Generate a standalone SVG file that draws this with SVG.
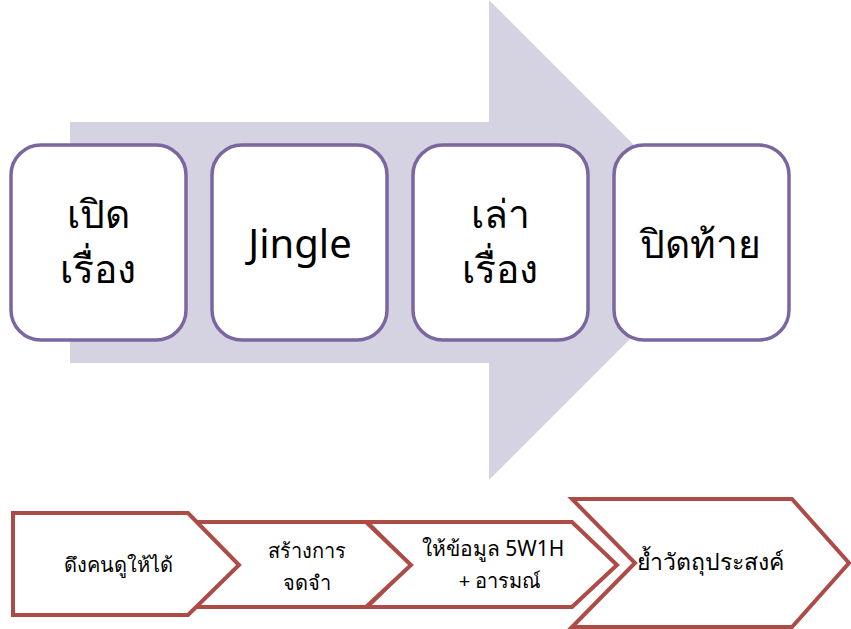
<svg xmlns="http://www.w3.org/2000/svg" width="851" height="629" viewBox="0 0 851 629">
<style>
.box{fill:#ffffff;stroke:#7b66a0;stroke-width:3.5}
.chev{fill:#ffffff;stroke:#ad4b47;stroke-width:4;stroke-linejoin:miter}
.big{font-family:"Noto Sans","DejaVu Sans",sans-serif;font-size:39px;fill:#000000;text-anchor:middle}
.small{font-family:"Noto Sans","DejaVu Sans",sans-serif;font-size:20px;fill:#000000;text-anchor:middle}
</style>
<rect width="851" height="629" fill="#ffffff"/>
<g id="bigArrow">
<polygon points="70,122 489,122 489,0 729,240 489,480 489,363 70,363" fill="#d5d2e2"/>
</g>
<g id="node1">
<rect class="box" x="11" y="145" width="175" height="195" rx="30"/>
<text class="big" x="98" y="228">เปิด</text>
<text class="big" x="98" y="283">เรื่อง</text>
</g>
<g id="node2">
<rect class="box" x="212" y="145" width="175" height="195" rx="30"/>
<text class="big" x="300" y="258" style="font-size:40px">Jingle</text>
</g>
<g id="node3">
<rect class="box" x="413" y="145" width="175" height="195" rx="30"/>
<text class="big" x="500" y="228">เล่า</text>
<text class="big" x="500" y="283">เรื่อง</text>
</g>
<g id="node4">
<rect class="box" x="614" y="145" width="175" height="195" rx="30"/>
<text class="big" x="700" y="258">ปิดท้าย</text>
</g>
<g id="connectors">
<g id="chev4">
<polygon class="chev" points="572,499 792,499 849,563 792,627 572,627 635,563"/>
<text class="small" x="710" y="570" style="font-size:23px">ย้ำวัตถุประสงค์</text>
</g>
<g id="chev3">
<polygon class="chev" points="367,522 572,522 617,565 572,607 367,607 410,565"/>
<text class="small" x="493" y="556" style="font-size:21px">ให้ข้อมูล 5W1H</text>
<text class="small" x="500" y="588">+ อารมณ์</text>
</g>
<g id="chev2">
<polygon class="chev" points="195,522 366,522 411,565 366,607 195,607 238,565"/>
<text class="small" x="307" y="558">สร้างการ</text>
<text class="small" x="307" y="590">จดจำ</text>
</g>
<g id="chev1">
<polygon class="chev" points="13,513 188,513 239,565 188,615 13,615"/>
<text class="small" x="118" y="572">ดึงคนดูให้ได้</text>
</g>
</g>
</svg>
